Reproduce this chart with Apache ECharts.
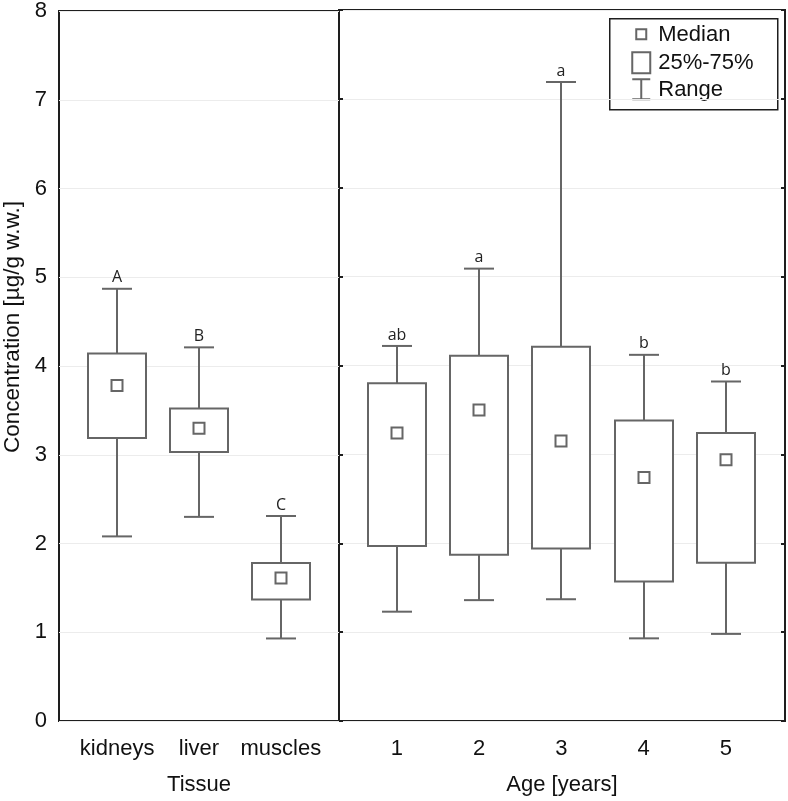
<!DOCTYPE html>
<html>
<head>
<meta charset="utf-8">
<script src="https://cdn.jsdelivr.net/npm/echarts@6/dist/echarts.min.js"></script>
<style>
  html, body { margin: 0; padding: 0; background: #fff; }
  #chart { width: 788px; height: 801px; }
</style>
</head>
<body>
<div id="chart"></div>
<script>
// Tissue panel
const tissueCats = ['kidneys', 'liver', 'muscles']
const tissueMin = [2.08, 2.30, 0.93]
const tissueQ1 = [3.19, 3.03, 1.37]
const tissueMed = [3.78, 3.30, 1.61]
const tissueQ3 = [4.14, 3.52, 1.78]
const tissueMax = [4.87, 4.21, 2.31]
const tissueLetters = ['A', 'B', 'C']

// Age panel
const ageCats = ['1', '2', '3', '4', '5']
const ageMin = [1.23, 1.36, 1.37, 0.93, 0.98]
const ageQ1 = [1.97, 1.87, 1.94, 1.57, 1.78]
const ageMed = [3.24, 3.50, 3.15, 2.74, 2.94]
const ageQ3 = [3.80, 4.11, 4.21, 3.38, 3.24]
const ageMax = [4.22, 5.09, 7.19, 4.12, 3.82]
const ageLetters = ['ab', 'a', 'a', 'b', 'b']

const FONT = '"Liberation Sans", Arial, sans-serif'
const BOX_COLOR = '#666'
const FRAME_COLOR = '#1e1e1e'

const chart = echarts.init(document.getElementById('chart'))

// build [x, min, q1, med, q3, max] rows
const rows = (xs, mins, q1s, meds, q3s, maxs) =>
  mins.map((m, i) => [xs[i], m, q1s[i], meds[i], q3s[i], maxs[i]])

const renderBox = (params, api) => {
  const x = api.value(0)
  const pMin = api.coord([x, api.value(1)])
  const pQ1 = api.coord([x, api.value(2)])
  const pMed = api.coord([x, api.value(3)])
  const pQ3 = api.coord([x, api.value(4)])
  const pMax = api.coord([x, api.value(5)])
  const cx = Math.round(pMin[0])
  const boxW = 58
  const capW = 30
  const medS = 11
  const line = { stroke: BOX_COLOR, lineWidth: 2 }
  const letter = params.seriesIndex === 0
    ? tissueLetters[params.dataIndex]
    : ageLetters[params.dataIndex]
  return {
    type: 'group',
    children: [
      { type: 'line', shape: { x1: cx, y1: pMin[1], x2: cx, y2: pQ1[1] }, style: line },
      { type: 'line', shape: { x1: cx, y1: pQ3[1], x2: cx, y2: pMax[1] }, style: line },
      { type: 'line', shape: { x1: cx - capW / 2, y1: pMin[1], x2: cx + capW / 2, y2: pMin[1] }, style: line },
      { type: 'line', shape: { x1: cx - capW / 2, y1: pMax[1], x2: cx + capW / 2, y2: pMax[1] }, style: line },
      {
        type: 'rect',
        shape: { x: cx - boxW / 2, y: pQ3[1], width: boxW, height: pQ1[1] - pQ3[1] },
        style: { fill: '#fff', stroke: BOX_COLOR, lineWidth: 2 }
      },
      {
        type: 'rect',
        shape: { x: cx - medS / 2, y: pMed[1] - medS / 2, width: medS, height: medS },
        style: { fill: '#fff', stroke: BOX_COLOR, lineWidth: 2 }
      },
      {
        type: 'text',
        x: cx,
        y: pMax[1] - 3,
        style: {
          text: letter,
          fill: '#222',
          font: '16px "Open Sans", sans-serif',
          align: 'center',
          verticalAlign: 'bottom'
        }
      }
    ]
  }
}

const yAxisBase = {
  type: 'value',
  min: 0,
  max: 8,
  interval: 1,
  axisLine: { show: false },
  splitLine: { show: true, lineStyle: { color: '#ececec', width: 1 } }
}

const axisText = { color: '#111', fontFamily: FONT, fontSize: 22 }

const option = {
  backgroundColor: '#fff',
  animation: false,
  grid: [
    { left: 57, right: 449, top: 10, bottom: 78, show: true, borderColor: FRAME_COLOR, borderWidth: 2, backgroundColor: 'transparent' },
    { left: 339, right: 3, top: 10, bottom: 78, show: true, borderColor: FRAME_COLOR, borderWidth: 2, backgroundColor: 'transparent' }
  ],
  xAxis: [
    {
      type: 'value',
      gridIndex: 0,
      min: -0.71,
      max: 2.71,
      axisLine: { show: false },
      axisTick: { show: false },
      splitLine: { show: false },
      axisLabel: {
        ...axisText,
        customValues: [0, 1, 2],
        formatter: v => tissueCats[Math.round(v)],
        margin: 17
      },
      name: 'Tissue',
      nameLocation: 'middle',
      nameGap: 53,
      nameTextStyle: axisText
    },
    {
      type: 'value',
      gridIndex: 1,
      min: 0.297,
      max: 5.718,
      axisLine: { show: false },
      axisTick: { show: false },
      splitLine: { show: false },
      axisLabel: {
        ...axisText,
        customValues: [1, 2, 3, 4, 5],
        formatter: v => ageCats[Math.round(v) - 1],
        margin: 17
      },
      name: 'Age [years]',
      nameLocation: 'middle',
      nameGap: 53,
      nameTextStyle: axisText
    }
  ],
  yAxis: [
    {
      ...yAxisBase,
      gridIndex: 0,
      axisTick: { show: false },
      axisLabel: { ...axisText, margin: 12 },
      name: 'Concentration [µg/g w.w.]',
      nameLocation: 'middle',
      nameRotate: 90,
      nameGap: 35,
      nameTextStyle: { ...axisText, fontSize: 22.5, padding: [0, 0, 0, 78] }
    },
    {
      ...yAxisBase,
      gridIndex: 1,
      position: 'left',
      axisTick: { show: true, inside: true, length: 4, lineStyle: { color: FRAME_COLOR, width: 2 } },
      axisLabel: { show: false }
    },
    {
      ...yAxisBase,
      gridIndex: 1,
      position: 'right',
      splitLine: { show: false },
      axisTick: { show: true, inside: true, length: 4, lineStyle: { color: FRAME_COLOR, width: 2 } },
      axisLabel: { show: false }
    }
  ],
  series: [
    {
      type: 'custom',
      xAxisIndex: 0,
      yAxisIndex: 0,
      renderItem: renderBox,
      data: rows([0, 1, 2], tissueMin, tissueQ1, tissueMed, tissueQ3, tissueMax),
      encode: { x: 0, y: [1, 2, 3, 4, 5] },
      z: 5
    },
    {
      type: 'custom',
      xAxisIndex: 1,
      yAxisIndex: 1,
      renderItem: renderBox,
      data: rows([1, 2, 3, 4, 5], ageMin, ageQ1, ageMed, ageQ3, ageMax),
      encode: { x: 0, y: [1, 2, 3, 4, 5] },
      z: 5
    }
  ],
  graphic: [
    {
      type: 'group',
      left: 609,
      top: 18,
      z: 10,
      children: [
        { type: 'rect', shape: { x: 0.5, y: 0.5, width: 168, height: 91 }, style: { fill: '#fff', stroke: FRAME_COLOR, lineWidth: 1.5 } },
        { type: 'rect', shape: { x: 27, y: 11, width: 10, height: 10 }, style: { fill: '#fff', stroke: BOX_COLOR, lineWidth: 2 } },
        { type: 'rect', shape: { x: 23, y: 34, width: 18, height: 21 }, style: { fill: '#fff', stroke: BOX_COLOR, lineWidth: 2 } },
        { type: 'line', shape: { x1: 32, y1: 61, x2: 32, y2: 81 }, style: { stroke: BOX_COLOR, lineWidth: 2 } },
        { type: 'line', shape: { x1: 23, y1: 61, x2: 41, y2: 61 }, style: { stroke: BOX_COLOR, lineWidth: 2 } },
        { type: 'line', shape: { x1: 23, y1: 81, x2: 41, y2: 81 }, style: { stroke: BOX_COLOR, lineWidth: 2 } },
        { type: 'text', x: 49, y: 17, style: { text: 'Median', font: '22px ' + FONT, fill: '#111', verticalAlign: 'middle' } },
        { type: 'text', x: 49, y: 45, style: { text: '25%-75%', font: '22px ' + FONT, fill: '#111', verticalAlign: 'middle' } },
        { type: 'text', x: 49, y: 72, style: { text: 'Range', font: '22px ' + FONT, fill: '#111', verticalAlign: 'middle' } }
      ]
    }
  ]
}

chart.setOption(option)
</script>
</body>
</html>
